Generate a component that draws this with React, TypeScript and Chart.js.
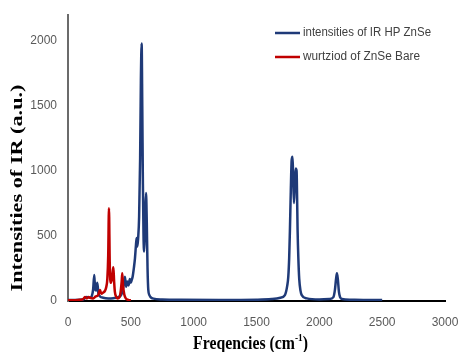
import React, { useEffect, useRef } from 'react';
import { Chart, registerables } from 'chart.js';
Chart.register(...registerables);

const seriesNames = ['intensities of IR HP ZnSe', 'wurtziod of ZnSe Bare'];
const yTitle = 'Intensities of IR (a.u.)';
const xTitleMain = 'Freqencies (cm';
const xTitleSup = '-1';
const xTitleEnd = ')';

const xTicks = [0, 500, 1000, 1500, 2000, 2500, 3000];
const yTicks = [0, 500, 1000, 1500, 2000];

const blueFreq = [0, 60, 120, 150, 175, 190, 200, 209, 216, 224, 233, 242, 255, 280, 320, 360, 400, 425, 440, 453, 462, 472, 482, 492, 500, 507, 515, 525, 533, 540, 546, 552, 558, 566, 574, 580, 586, 591, 596, 601, 606, 611, 616, 621, 627, 633, 639, 648, 657, 680, 750, 900, 1200, 1500, 1620, 1690, 1726, 1745, 1753, 1760, 1766, 1773, 1780, 1787, 1792, 1798, 1805, 1812, 1819, 1823, 1827, 1833, 1840, 1850, 1860, 1900, 2000, 2080, 2112, 2124, 2133, 2140, 2147, 2156, 2165, 2180, 2250, 2400, 2500];
const blueInt = [8, 8, 12, 30, 25, 40, 90, 200, 90, 80, 140, 60, 35, 25, 20, 22, 30, 50, 110, 187, 110, 150, 120, 170, 140, 162, 190, 260, 330, 420, 485, 420, 480, 650, 1100, 1700, 1980, 1500, 900, 500, 380, 500, 720, 830, 600, 250, 85, 45, 30, 18, 12, 9, 8, 10, 15, 25, 45, 120, 187, 330, 546, 850, 1085, 1110, 950, 754, 900, 1020, 1000, 800, 546, 330, 170, 80, 45, 20, 12, 15, 30, 85, 170, 213, 170, 70, 30, 15, 10, 8, 8];

const redFreq = [0, 40, 80, 120, 135, 150, 165, 175, 200, 220, 240, 255, 265, 280, 295, 305, 313, 320, 326, 332, 338, 347, 355, 361, 367, 373, 383, 393, 410, 420, 427, 432, 438, 448, 460, 480, 500];
const redInt = [5, 5, 8, 15, 30, 20, 30, 25, 20, 35, 45, 85, 55, 65, 80, 110, 170, 350, 713, 300, 140, 160, 220, 259, 150, 70, 35, 20, 30, 80, 150, 213, 120, 50, 20, 8, 5];

const blueColor = '#1F3A78';
const redColor = '#C00000';

const overlayPlugin = {
  id: 'overlay',
  afterDraw(chart: any) {
    const ctx = chart.ctx as CanvasRenderingContext2D;
    ctx.save();
    const items = [
      { label: seriesNames[0], color: blueColor, y: 33, w: 128 },
      { label: seriesNames[1], color: redColor, y: 57, w: 117 },
    ];
    for (const it of items) {
      ctx.strokeStyle = it.color;
      ctx.lineWidth = 2.5;
      ctx.beginPath();
      ctx.moveTo(275, it.y);
      ctx.lineTo(300, it.y);
      ctx.stroke();
      ctx.save();
      ctx.font = '11px "Liberation Sans", sans-serif';
      const m = ctx.measureText(it.label).width;
      ctx.translate(303, it.y);
      ctx.scale(it.w / m, 1.15);
      ctx.fillStyle = '#404040';
      ctx.textAlign = 'left';
      ctx.textBaseline = 'middle';
      ctx.fillText(it.label, 0, 0);
      ctx.restore();
    }
    ctx.save();
    ctx.font = 'bold 16px "Liberation Serif", serif';
    const yw = ctx.measureText(yTitle).width;
    ctx.translate(18, 188);
    ctx.rotate(-Math.PI / 2);
    ctx.scale(207 / yw, 1);
    ctx.fillStyle = '#000';
    ctx.textAlign = 'center';
    ctx.textBaseline = 'middle';
    ctx.fillText(yTitle, 0, 0);
    ctx.restore();
    ctx.save();
    const mainFont = 'bold 17px "Liberation Serif", serif';
    const supFont = 'bold 10px "Liberation Serif", serif';
    ctx.font = mainFont;
    const w1 = ctx.measureText(xTitleMain).width;
    const w3 = ctx.measureText(xTitleEnd).width;
    ctx.font = supFont;
    const w2 = ctx.measureText(xTitleSup).width;
    const total = w1 + w2 + w3;
    const sx = 115 / total;
    ctx.translate(193, 349);
    ctx.scale(sx, 1.12);
    ctx.fillStyle = '#000';
    ctx.textAlign = 'left';
    ctx.textBaseline = 'alphabetic';
    ctx.font = mainFont;
    ctx.fillText(xTitleMain, 0, 0);
    ctx.font = supFont;
    ctx.fillText(xTitleSup, w1, -7);
    ctx.font = mainFont;
    ctx.fillText(xTitleEnd, w1 + w2, 0);
    ctx.restore();
    ctx.restore();
  },
};

export default function App() {
  const ref = useRef<HTMLCanvasElement | null>(null);
  useEffect(() => {
    if (!ref.current) return;
    const blue = blueFreq.map((f, i) => ({ x: f, y: blueInt[i] }));
    const red = redFreq.map((f, i) => ({ x: f, y: redInt[i] }));
    const chart = new Chart(ref.current, {
      type: 'line',
      data: {
        datasets: [
          {
            label: seriesNames[0],
            data: blue,
            borderColor: blueColor,
            borderWidth: 2.5,
            pointRadius: 0,
            fill: false,
            cubicInterpolationMode: 'monotone',
            order: 1,
          },
          {
            label: seriesNames[1],
            data: red,
            borderColor: redColor,
            borderWidth: 2.5,
            pointRadius: 0,
            fill: false,
            cubicInterpolationMode: 'monotone',
            order: 0,
          },
        ],
      },
      options: {
        responsive: false,
        animation: false,
        layout: { padding: { top: 15, right: 14, left: 0, bottom: 0 } },
        plugins: { legend: { display: false }, tooltip: { enabled: false } },
        scales: {
          x: {
            type: 'linear',
            min: xTicks[0],
            max: xTicks[xTicks.length - 1],
            grid: { display: false, drawTicks: false },
            border: { display: true, color: '#000', width: 2 },
            afterFit: (s: any) => { s.height = 51; s.paddingLeft = 0; s.paddingRight = 0; },
            afterBuildTicks: (s: any) => { s.ticks = xTicks.map((v) => ({ value: v })); },
            ticks: {
              padding: 14,
              color: '#595959',
              font: { family: '"Liberation Sans", sans-serif', size: 12 },
              maxRotation: 0,
              autoSkip: false,
              callback: (v: any) => String(v),
            },
          },
          y: {
            type: 'linear',
            min: 0,
            max: 2200,
            grid: { display: false, drawTicks: false },
            border: { display: true, color: '#6b6b6b', width: 2 },
            afterFit: (s: any) => { s.width = 68; s.paddingTop = 0; s.paddingBottom = 0; },
            afterBuildTicks: (s: any) => { s.ticks = yTicks.map((v) => ({ value: v })); },
            ticks: {
              padding: 11,
              color: '#595959',
              font: { family: '"Liberation Sans", sans-serif', size: 12 },
              autoSkip: false,
              callback: (v: any) => String(v),
            },
          },
        },
      },
      plugins: [overlayPlugin],
    } as any);
    return () => chart.destroy();
  }, []);
  return (
    <div style={{ position: 'fixed', left: 0, top: 0, width: 459, height: 352, background: '#fff' }}>
      <canvas ref={ref} width={459} height={352} style={{ display: 'block', width: 459, height: 352 }} />
    </div>
  );
}
